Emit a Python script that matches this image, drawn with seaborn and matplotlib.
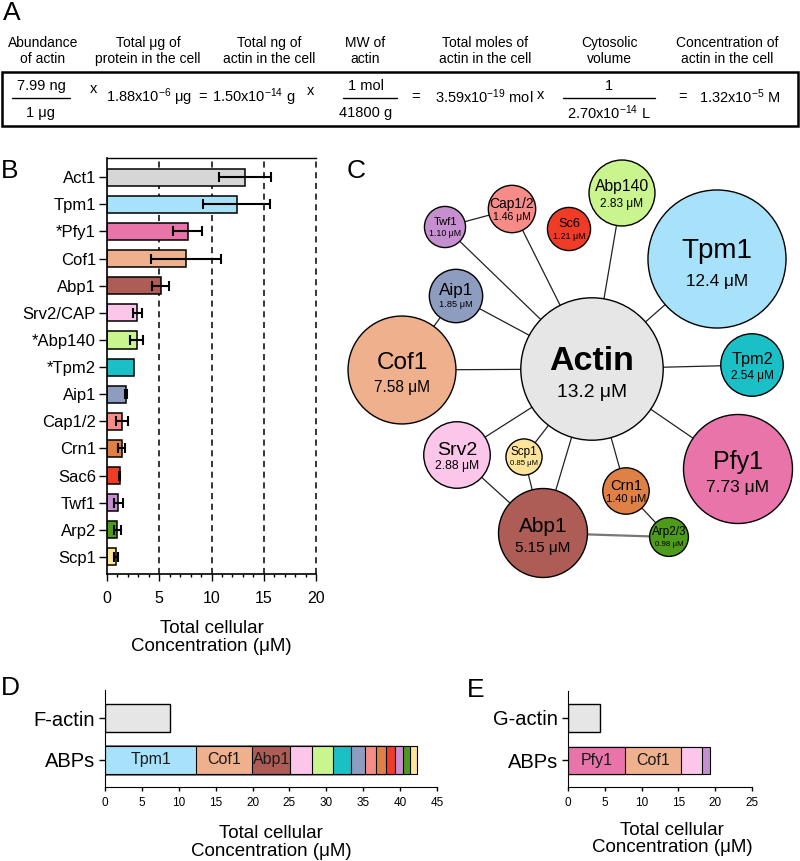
import numpy as np
import pandas as pd
import matplotlib
matplotlib.use("Agg")
import matplotlib.pyplot as plt
from matplotlib.patches import Circle, Rectangle
from matplotlib.ticker import MultipleLocator
import seaborn as sns

sns.set_style("ticks", rc={"axes.edgecolor": "black", "text.color": "black",
                           "xtick.color": "black", "ytick.color": "black",
                           "axes.labelcolor": "black"})
plt.rcParams["font.family"] = ["Liberation Sans", "DejaVu Sans"]
plt.rcParams["mathtext.fontset"] = "custom"
plt.rcParams["mathtext.rm"] = "Liberation Sans"
plt.rcParams["mathtext.default"] = "regular"

# --- data ---
proteins = ["Act1", "Tpm1", "Pfy1", "Cof1", "Abp1", "Srv2/CAP", "Abp140", "Tpm2",
            "Aip1", "Cap1/2", "Crn1", "Sac6", "Twf1", "Arp2", "Scp1"]
b_labels = ["Act1", "Tpm1", "*Pfy1", "Cof1", "Abp1", "Srv2/CAP", "*Abp140", "*Tpm2",
            "Aip1", "Cap1/2", "Crn1", "Sac6", "Twf1", "Arp2", "Scp1"]
bubble_names = ["Actin", "Tpm1", "Pfy1", "Cof1", "Abp1", "Srv2", "Abp140", "Tpm2",
                "Aip1", "Cap1/2", "Crn1", "Sc6", "Twf1", "Arp2/3", "Scp1"]
conc_um = [13.2, 12.4, 7.73, 7.58, 5.15, 2.88, 2.83, 2.54, 1.85, 1.46, 1.40, 1.21, 1.10, 0.98, 0.85]
conc_sd = [2.45, 3.2, 1.4, 3.35, 0.83, 0.43, 0.6, 0.0, 0.1, 0.56, 0.32, 0.08, 0.4, 0.35, 0.2]
bar_colors = ["#d6d6d6", "#a8e2fa", "#e874aa", "#efb08d", "#ad5d55", "#fcc5ea", "#c9f48e", "#1bbfc6",
              "#8e9cc0", "#f68b88", "#df8147", "#f03c26", "#c68fd0", "#4e9a1b", "#fde49b"]
actin_fill = "#e6e6e6"

f_actin_um = 8.8
g_actin_um = 4.4
f_partners = ["Tpm1", "Cof1", "Abp1", "Srv2/CAP", "Abp140", "Tpm2", "Aip1",
              "Cap1/2", "Crn1", "Sac6", "Twf1", "Arp2", "Scp1"]
g_partners = ["Pfy1", "Cof1", "Srv2/CAP", "Twf1"]

edges = [("Actin", "Tpm1"), ("Actin", "Abp140"), ("Actin", "Cap1/2"), ("Actin", "Twf1"),
         ("Actin", "Aip1"), ("Actin", "Cof1"), ("Actin", "Tpm2"), ("Actin", "Pfy1"),
         ("Actin", "Srv2"), ("Actin", "Scp1"), ("Actin", "Abp1"), ("Actin", "Crn1"),
         ("Twf1", "Cap1/2"), ("Aip1", "Cof1"), ("Srv2", "Abp1"), ("Scp1", "Abp1"),
         ("Crn1", "Arp2/3"), ("Abp1", "Arp2/3")]

# --- layout (figure pixels) ---
W, H = 800, 861
bubble_xy = [(592, 369), (717, 259), (738, 469), (402, 370), (543, 533), (457, 455),
             (622, 193), (752, 365), (456, 296), (512, 209), (626, 491), (569, 229),
             (445, 227), (669, 537), (524, 457)]
name_fs = [24.5, 20, 18, 17.5, 15, 14, 11.3, 11.7, 12.3, 10, 10.6, 9.2, 8, 8.5, 8.5]
value_fs = [13.9, 12.3, 12.5, 11.2, 11, 8.7, 8.6, 8.5, 6.7, 7.5, 8, 6.5, 6.3, 5.7, 5.6]
r_scale = 19.6

a_headers = ["Abundance\nof actin", "Total μg of\nprotein in the cell", "Total ng of\nactin in the cell",
             "MW of\nactin", "Total moles of\nactin in the cell", "Cytosolic\nvolume",
             "Concentration of\nactin in the cell"]
a_header_x = [43, 148, 269, 365, 485, 609, 727]
a_fractions = [("7.99 ng", "1 μg", 41, 12, 70),
               ("1 mol", "41800 g", 366, 343, 397),
               ("1", "2.70x$10^{-14}$ L", 609, 563, 655)]
a_inline = [("x", 94, 89), ("1.88x$10^{-6}$ μg", 149, 97), ("=", 203, 97),
            ("1.50x$10^{-14}$ g", 254, 97), ("x", 311, 91), ("=", 416, 97),
            ("3.59x$10^{-19}$ mol", 484, 97), ("x", 541, 95), ("=", 683, 97),
            ("1.32x$10^{-5}$ M", 740, 97)]


def px_axes(x0, y0, x1, y1):
    return fig.add_axes([x0 / W, 1 - y1 / H, (x1 - x0) / W, (y1 - y0) / H])


fig = plt.figure(figsize=(W / 100, H / 100), dpi=100)

# overlay for panel A and panel letters
ov = fig.add_axes([0, 0, 1, 1])
ov.set_xlim(0, W)
ov.set_ylim(H, 0)
ov.axis("off")

for txt, x in zip(a_headers, a_header_x):
    ov.text(x, 51, txt, ha="center", va="center", fontsize=10, linespacing=1.2)
ov.add_patch(Rectangle((2, 72), 796, 54, fill=False, lw=1.8, ec="black"))
for num, den, x, x0, x1 in a_fractions:
    ov.text(x, 86, num, ha="center", va="center", fontsize=10.5)
    ov.plot([x0, x1], [98, 98], color="black", lw=1)
    ov.text(x, 113, den, ha="center", va="center", fontsize=10.5)
for txt, x, y in a_inline:
    ov.text(x, y, txt, ha="center", va="center", fontsize=10.5)

for letter, x, y in [("A", 12, 13), ("B", 10, 171), ("C", 356, 171), ("D", 10, 688), ("E", 476, 690)]:
    ov.text(x, y, letter, ha="center", va="center", fontsize=19)

# --- B: horizontal bars ---
axb = px_axes(107, 158, 316, 574)
df_b = pd.DataFrame({"label": b_labels, "conc": conc_um, "sd": conc_sd})
sns.barplot(data=df_b, x="conc", y="label", hue="label", palette=bar_colors, legend=False,
            edgecolor="black", linewidth=1.1, width=0.63, errorbar=None, ax=axb)
has_err = df_b["sd"] > 0
axb.errorbar(df_b["conc"][has_err], np.arange(len(df_b))[has_err], xerr=df_b["sd"][has_err],
             fmt="none", ecolor="black", elinewidth=1.5, capsize=3.5, capthick=1.5, zorder=5)
for v in [5, 10, 15, 20]:
    axb.axvline(v, color="black", lw=1.1, ls=(0, (4, 3)), zorder=0.5, clip_on=False)
axb.set_xlim(0, 20)
axb.set_ylim(14.63, -0.71)
axb.xaxis.set_major_locator(MultipleLocator(5))
axb.xaxis.set_minor_locator(MultipleLocator(1))
axb.spines["right"].set_visible(False)
axb.spines["top"].set_linewidth(1.0)
axb.spines["left"].set_linewidth(1.2)
axb.spines["bottom"].set_linewidth(1.2)
axb.tick_params(axis="y", length=6, width=1, labelsize=12, pad=2)
axb.tick_params(axis="x", which="major", length=5, width=1, labelsize=11.5, pad=7)
axb.tick_params(axis="x", which="minor", length=2.5, width=1)
axb.set_ylabel("")
axb.set_xlabel("Total cellular\nConcentration (μM)", fontsize=13.5, linespacing=1.1, labelpad=10)

# --- C: bubble network ---
axc = px_axes(330, 140, 800, 640)
axc.set_xlim(330, 800)
axc.set_ylim(640, 140)
axc.axis("off")
pos = dict(zip(bubble_names, bubble_xy))
for a, b in edges:
    (x0, y0), (x1, y1) = pos[a], pos[b]
    grey = (a, b) == ("Abp1", "Arp2/3")
    axc.plot([x0, x1], [y0, y1], color="#777777" if grey else "#222222",
             lw=1.6 if grey else 0.9, zorder=1)
c_colors = [actin_fill] + bar_colors[1:]
for name, v, (x, y), col, nfs, vfs in zip(bubble_names, conc_um, bubble_xy, c_colors, name_fs, value_fs):
    r = r_scale * np.sqrt(v)
    axc.add_patch(Circle((x, y), r, fc=col, ec="black", lw=1.0, zorder=2))
    val = f"{v:.1f}" if v >= 10 else f"{v:.2f}"
    n_em = nfs * 100 / 72
    v_em = vfs * 100 / 72
    axc.text(x, y - (0.1 * r + 4) + 0.36 * n_em, name, ha="center", va="baseline", fontsize=nfs,
             fontweight="bold" if name == "Actin" else "normal", zorder=3)
    axc.text(x, y + 0.3 * r + 0.36 * v_em, f"{val} μM", ha="center", va="baseline",
             fontsize=vfs, zorder=3)

lookup_val = dict(zip(proteins, conc_um))
lookup_col = dict(zip(proteins, bar_colors))


def stacked_panel(ax, actin_label, actin_val, partners, xmax):
    order = [actin_label, "ABPs"]
    sns.barplot(x=[actin_val], y=[actin_label], order=order, color=actin_fill,
                edgecolor="black", linewidth=1.0, width=0.65, errorbar=None, ax=ax)
    vals = [lookup_val[p] for p in partners]
    cum = np.cumsum(vals)
    for i in reversed(range(len(partners))):
        sns.barplot(x=[cum[i]], y=["ABPs"], order=order, color=lookup_col[partners[i]],
                    saturation=1, edgecolor="black", linewidth=0.8, width=0.65,
                    errorbar=None, ax=ax)
    for i, p in enumerate(partners):
        if vals[i] > 4:
            ax.text(cum[i] - vals[i] / 2, 1, p, ha="center", va="center", fontsize=11.5,
                    color="#1a1a1a")
    ax.set_xlim(0, xmax)
    ax.xaxis.set_major_locator(MultipleLocator(5))
    ax.spines[["top", "right"]].set_visible(False)
    ax.tick_params(axis="y", length=4, width=1, labelsize=14.5, pad=3)
    ax.tick_params(axis="x", length=3, width=1, labelsize=8.5, pad=4)
    ax.set_ylabel("")
    ax.set_xlabel("Total cellular\nConcentration (μM)", fontsize=13.5, linespacing=1.05,
                  labelpad=12)


axd = px_axes(105, 690, 437, 787)
stacked_panel(axd, "F-actin", f_actin_um, f_partners, 45)
axd.set_ylim(1.643, -0.667)

axe = px_axes(568, 691, 752, 787)
stacked_panel(axe, "G-actin", g_actin_um, g_partners, 25)
axe.set_ylim(1.62, -0.62)
axe.xaxis.set_label_coords(0.565, -0.36)

# seaborn desaturates by default; keep the B bars at full colour too
for patch, col in zip(axb.patches, bar_colors):
    patch.set_facecolor(col)

fig.savefig("out.png", dpi=100)
